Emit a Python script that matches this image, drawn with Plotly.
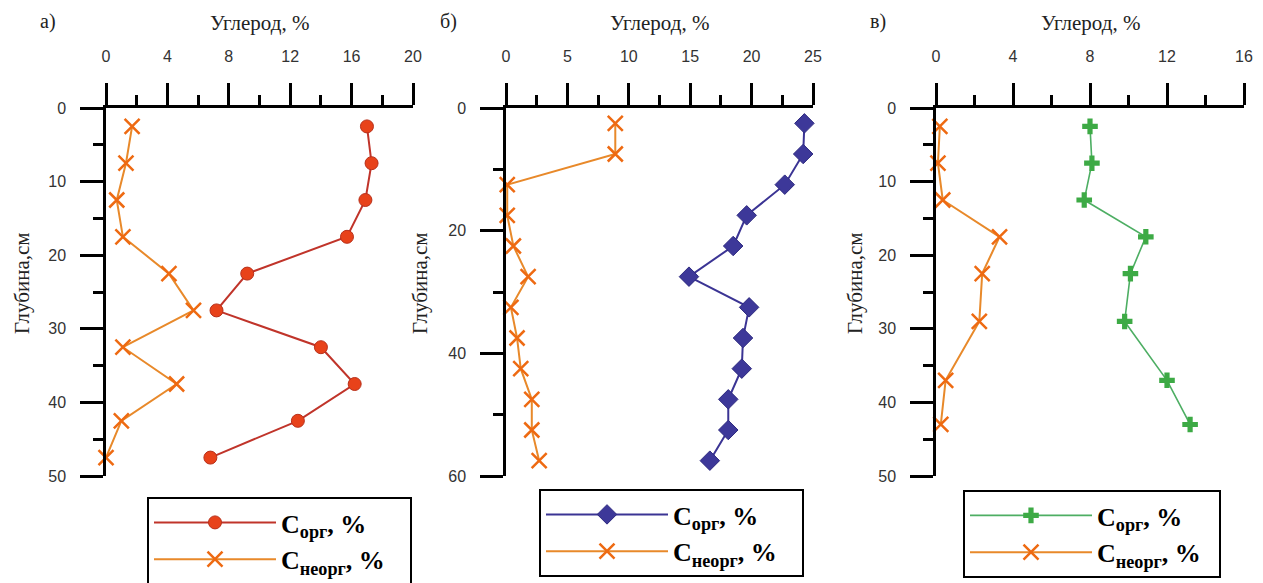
import plotly.graph_objects as go

W, H = 1263, 583

# ---- data ----
depth_a = [2.5, 7.5, 12.5, 17.5, 22.5, 27.5, 32.5, 37.5, 42.5, 47.5]
corg_a = [17.0, 17.3, 16.9, 15.7, 9.2, 7.2, 14.0, 16.2, 12.5, 6.8]
cneorg_a = [1.7, 1.3, 0.7, 1.1, 4.1, 5.7, 1.1, 4.6, 1.0, 0.0]

depth_b = [2.5, 7.5, 12.5, 17.5, 22.5, 27.5, 32.5, 37.5, 42.5, 47.5, 52.5, 57.5]
corg_b = [24.3, 24.2, 22.7, 19.6, 18.5, 14.9, 19.8, 19.3, 19.2, 18.1, 18.1, 16.6]
cneorg_b = [8.9, 8.9, 0.1, 0.1, 0.6, 1.8, 0.4, 0.9, 1.2, 2.1, 2.1, 2.7]

depth_c = [2.5, 7.5, 12.5, 17.5, 22.5, 29, 37, 43]
corg_c = [8.0, 8.1, 7.7, 10.9, 10.1, 9.8, 12.0, 13.2]
cneorg_c = [0.2, 0.1, 0.35, 3.3, 2.4, 2.25, 0.5, 0.25]

panel_labels = ["а)", "б)", "в)"]
x_title = "Углерод, %"
y_title = "Глубина,см"
name_org = "<b>С<sub>орг</sub>, %</b>"
name_neorg = "<b>С<sub>неорг</sub>, %</b>"
legend_pad = ["&nbsp;" * 3, "&nbsp;" * 3, "&nbsp;" * 2]

# ---- layout geometry (pixels) ----
x_px = [(106, 413), (506, 813), (936, 1244)]
y_top, y_bot = 108, 476
x_ranges = [[0, 20], [0, 25], [0, 16]]
x_dticks = [4, 5, 4]
y_ranges = [[50, 0], [60, 0], [50, 0]]
y_dticks = [10, 20, 10]
legend_pos = [(147, 497), (539, 489), (963, 490)]
ytitle_x = [22, 420, 855]

org_styles = [
    dict(line=dict(color="#C0342A", width=2),
         marker=dict(symbol="circle", size=13, color="#E8421A",
                     line=dict(color="#B8301A", width=1))),
    dict(line=dict(color="#3B3494", width=2),
         marker=dict(symbol="diamond", size=15, color="#3D3899",
                     line=dict(color="#2E2A80", width=1))),
    dict(line=dict(color="#4DAE63", width=1.6),
         marker=dict(symbol="cross", size=13, color="#3DAA45",
                     line=dict(color="#3DAA45", width=0))),
]
neorg_style = dict(line=dict(color="#E8892A", width=2),
                   marker=dict(symbol="x-thin", size=15,
                               line=dict(color="#EE6A12", width=2.5)))

datasets = [
    (depth_a, corg_a, cneorg_a),
    (depth_b, corg_b, cneorg_b),
    (depth_c, corg_c, cneorg_c),
]

fig = go.Figure()
legend_keys = ["legend", "legend2", "legend3"]

for i, (d, co, cn) in enumerate(datasets):
    xa = "x" if i == 0 else f"x{i+1}"
    ya = "y" if i == 0 else f"y{i+1}"
    fig.add_trace(go.Scatter(
        x=co, y=d, mode="lines+markers", name=name_org,
        xaxis=xa, yaxis=ya, cliponaxis=False,
        legend=legend_keys[i], legendgroup=f"o{i}", **org_styles[i]))
    fig.add_trace(go.Scatter(
        x=cn, y=d, mode="lines+markers", name=name_neorg + legend_pad[i],
        xaxis=xa, yaxis=ya, cliponaxis=False,
        legend=legend_keys[i], legendgroup=f"n{i}", **neorg_style))

tickfont = dict(family="Liberation Sans, Arial", size=16, color="#333333")
serif = "Liberation Serif, Times New Roman"
layout = dict(
    width=W, height=H,
    margin=dict(l=0, r=0, t=0, b=0, autoexpand=False),
    paper_bgcolor="white", plot_bgcolor="rgba(0,0,0,0)",
    annotations=[],
)

for i in range(3):
    xs = "" if i == 0 else str(i + 1)
    x0, x1 = x_px[i]
    layout[f"xaxis{xs}"] = dict(
        domain=[x0 / W, x1 / W], range=x_ranges[i], anchor=f"y{xs}",
        side="top", dtick=x_dticks[i], tick0=0,
        showline=True, linecolor="black", linewidth=2.5,
        ticks="outside", ticklen=22, tickwidth=2.5, tickcolor="black",
        minor=dict(dtick=x_dticks[i] / 2, ticks="outside", ticklen=10,
                   tickwidth=2.5, tickcolor="black", showgrid=False),
        showgrid=False, zeroline=False, tickfont=tickfont,
        ticklabelstandoff=15,
    )
    layout[f"yaxis{xs}"] = dict(
        domain=[1 - y_bot / H, 1 - y_top / H], range=y_ranges[i],
        anchor=f"x{xs}", dtick=y_dticks[i], tick0=0,
        showline=True, linecolor="black", linewidth=2.5,
        ticks="outside", ticklen=23, tickwidth=2.5, tickcolor="black",
        minor=dict(dtick=y_dticks[i] / 2, ticks="outside", ticklen=10,
                   tickwidth=2.5, tickcolor="black", showgrid=False),
        showgrid=False, zeroline=False, tickfont=tickfont,
        ticklabelstandoff=11,
    )
    lk = legend_keys[i]
    lx, ly = legend_pos[i]
    layout[lk] = dict(
        x=lx / W, y=1 - ly / H, xanchor="left", yanchor="top",
        bordercolor="black", borderwidth=2, bgcolor="white",
        font=dict(family=serif, size=26, color="black"),
        tracegroupgap=0, itemwidth=122,
    )
    cx = (x0 + x1) / 2
    layout["annotations"] += [
        dict(text=x_title, x=cx / W, y=1 - 23 / H, xref="paper", yref="paper",
             showarrow=False, xanchor="center", yanchor="middle",
             font=dict(family=serif, size=21, color="#222222")),
        dict(text=panel_labels[i], x=(x0 - 58) / W, y=1 - 22 / H,
             xref="paper", yref="paper", showarrow=False,
             xanchor="center", yanchor="middle",
             font=dict(family=serif, size=20, color="#222222")),
        dict(text=y_title, x=ytitle_x[i] / W, y=1 - 283 / H,
             xref="paper", yref="paper", showarrow=False, textangle=-90,
             xanchor="center", yanchor="middle",
             font=dict(family=serif, size=21, color="#222222")),
    ]

fig.update_layout(**layout)
fig.write_html("out.html")
